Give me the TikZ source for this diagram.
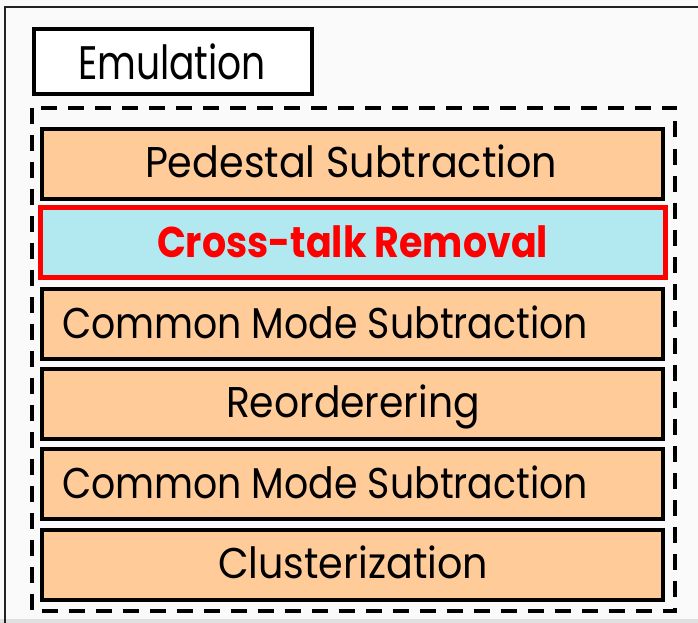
\documentclass[tikz,border=0pt]{standalone}
\usepackage{fontspec}
\setmainfont{Poppins}
\usepackage{graphicx}
\definecolor{stagefill}{HTML}{FFCC99}
\definecolor{hotfill}{HTML}{B2E9F1}
\definecolor{hotred}{HTML}{FF0000}
\definecolor{pagebg}{HTML}{FAFAFA}
\definecolor{framegray}{HTML}{222222}
% set a label at its natural height, stretched to a given width
\newcommand{\fitlabel}[2]{\resizebox{#1}{\height}{#2}}
\begin{document}
\begin{tikzpicture}[x=1pt,y=-1pt,
  stagebox/.style={draw=black, line width=4pt, fill=stagefill,
    minimum width=621pt, minimum height=70pt, inner sep=0pt, outer sep=0pt},
  hotbox/.style={stagebox, draw=hotred, line width=5pt, fill=hotfill,
    minimum width=625pt, minimum height=70pt},
  titlebox/.style={draw=black, line width=4pt, fill=white,
    minimum width=278pt, minimum height=65pt, inner sep=0pt},
  lbl/.style={anchor=base west, inner sep=0pt, outer sep=0pt,
    font=\fontsize{43}{43}\selectfont},
  grouprule/.style={draw=black, line width=4pt, dash pattern=on 16pt off 11pt}
]
\useasboundingbox (0,0) rectangle (698,623);
\clip (0,0) rectangle (698,623);
\fill[pagebg] (0,0) rectangle (698,623);
\fill[black!12] (0,619) rectangle (698,623);

% outer frame, running off the right and bottom edges
\draw[framegray, line width=1.6pt] (5,640) -- (5,7) -- (720,7);

% title
\node[titlebox] (emu) at (173,61.3) {};
\node[lbl, font=\fontsize{47}{47}\selectfont] (emuT) at (78,80) {\fitlabel{188pt}{Emulation}};

% dashed group around the processing chain
\coordinate (gNW) at (31.5,108);
\coordinate (gSE) at (675,611);
\draw[grouprule] (gNW) rectangle (gSE);

% processing stages
\node[stagebox] (ped) at (352.5,163.5) {};
\node[hotbox]   (xt)  at (353,242.5) {};
\node[stagebox] (cm1) at (352.5,324) {};
\node[stagebox] (reo) at (352.5,404) {};
\node[stagebox] (cm2) at (352.5,484) {};
\node[stagebox] (clu) at (352.5,564.5) {};

\node[lbl] (pedT) at (145,177) {\fitlabel{412pt}{Pedestal Subtraction}};
\node[lbl, text=hotred, font=\fontsize{43}{43}\selectfont\bfseries] (xtT) at (157,257) {\fitlabel{391pt}{Cross-talk Removal}};
\node[lbl] (cm1T) at (62,338) {\fitlabel{526pt}{Common Mode Subtraction}};
\node[lbl] (reoT) at (226,417) {\fitlabel{254pt}{Reorderering}};
\node[lbl] (cm2T) at (62,498) {\fitlabel{526pt}{Common Mode Subtraction}};
\node[lbl] (cluT) at (218,578) {\fitlabel{270pt}{Clusterization}};
\end{tikzpicture}
\end{document}
